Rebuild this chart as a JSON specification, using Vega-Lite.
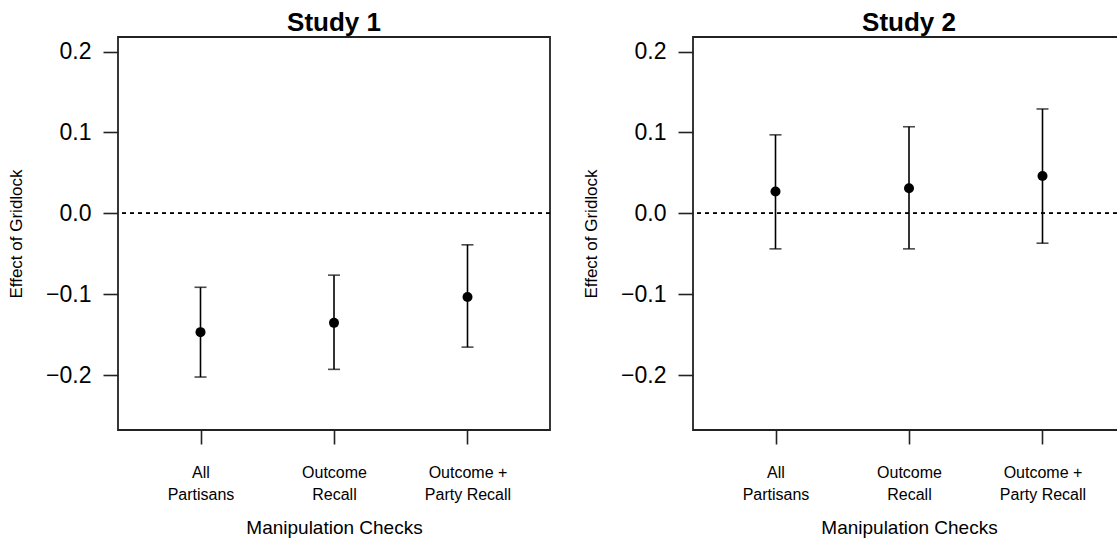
{
  "$schema": "https://vega.github.io/schema/vega-lite/v6.json",
  "padding": {"left": 6, "top": 9, "right": 0, "bottom": 0},
  "background": "white",
  "datasets": {
    "effects": [
      {"study": "Study 1", "check": "All Partisans", "estimate": -0.147, "lower": -0.2025, "upper": -0.0915},
      {"study": "Study 1", "check": "Outcome Recall", "estimate": -0.1355, "lower": -0.193, "upper": -0.0765},
      {"study": "Study 1", "check": "Outcome + Party Recall", "estimate": -0.1035, "lower": -0.1655, "upper": -0.039},
      {"study": "Study 2", "check": "All Partisans", "estimate": 0.027, "lower": -0.044, "upper": 0.097},
      {"study": "Study 2", "check": "Outcome Recall", "estimate": 0.031, "lower": -0.044, "upper": 0.107},
      {"study": "Study 2", "check": "Outcome + Party Recall", "estimate": 0.046, "lower": -0.037, "upper": 0.129}
    ]
  },
  "bounds": "flush",
  "spacing": 143,
  "hconcat": [
    {
      "title": "Study 1",
      "width": 432,
      "height": 393,
      "data": {"name": "effects"},
      "encoding": {
        "x": {
          "field": "check", "type": "nominal",
          "sort": ["All Partisans", "Outcome Recall", "Outcome + Party Recall"],
          "scale": {"type": "point", "padding": 0.618},
          "axis": {"title": "Manipulation Checks", "labelExpr": "datum.label == 'Outcome + Party Recall' ? ['Outcome +', 'Party Recall'] : split(datum.label, ' ')"}
        }
      },
      "layer": [
        {
          "mark": {"type": "rule", "strokeDash": [4, 4], "strokeWidth": 1.3, "color": "black"},
          "encoding": {
            "x": null,
            "y": {"datum": 0, "type": "quantitative", "scale": {"domain": [-0.268, 0.218], "nice": false, "zero": false}, "axis": {"title": "Effect of Gridlock", "values": [-0.2, -0.1, 0, 0.1, 0.2], "format": ".1f"}}
          }
        },
        {
          "transform": [{"filter": "datum.study === 'Study 1'"}],
          "mark": {"type": "rule", "strokeWidth": 1.6, "color": "black"},
          "encoding": {
            "y": {"field": "lower", "type": "quantitative", "scale": {"domain": [-0.268, 0.218], "nice": false, "zero": false}, "axis": {"title": "Effect of Gridlock", "values": [-0.2, -0.1, 0, 0.1, 0.2], "format": ".1f"}},
            "y2": {"field": "upper"}
          }
        },
        {
          "transform": [{"filter": "datum.study === 'Study 1'"}],
          "mark": {"type": "tick", "size": 12, "thickness": 1.6, "color": "black", "orient": "horizontal"},
          "encoding": {"y": {"field": "lower", "type": "quantitative", "axis": {"title": "Effect of Gridlock", "values": [-0.2, -0.1, 0, 0.1, 0.2], "format": ".1f"}}}
        },
        {
          "transform": [{"filter": "datum.study === 'Study 1'"}],
          "mark": {"type": "tick", "size": 12, "thickness": 1.6, "color": "black", "orient": "horizontal"},
          "encoding": {"y": {"field": "upper", "type": "quantitative", "axis": {"title": "Effect of Gridlock", "values": [-0.2, -0.1, 0, 0.1, 0.2], "format": ".1f"}}}
        },
        {
          "transform": [{"filter": "datum.study === 'Study 1'"}],
          "mark": {"type": "circle", "size": 100, "color": "black", "opacity": 1},
          "encoding": {"y": {"field": "estimate", "type": "quantitative", "axis": {"title": "Effect of Gridlock", "values": [-0.2, -0.1, 0, 0.1, 0.2], "format": ".1f"}}}
        }
      ]
    },
    {
      "title": "Study 2",
      "width": 432,
      "height": 393,
      "data": {"name": "effects"},
      "encoding": {
        "x": {
          "field": "check", "type": "nominal",
          "sort": ["All Partisans", "Outcome Recall", "Outcome + Party Recall"],
          "scale": {"type": "point", "padding": 0.618},
          "axis": {"title": "Manipulation Checks", "labelExpr": "datum.label == 'Outcome + Party Recall' ? ['Outcome +', 'Party Recall'] : split(datum.label, ' ')"}
        }
      },
      "layer": [
        {
          "mark": {"type": "rule", "strokeDash": [4, 4], "strokeWidth": 1.3, "color": "black"},
          "encoding": {
            "x": null,
            "y": {"datum": 0, "type": "quantitative", "scale": {"domain": [-0.268, 0.218], "nice": false, "zero": false}, "axis": {"title": "Effect of Gridlock", "values": [-0.2, -0.1, 0, 0.1, 0.2], "format": ".1f"}}
          }
        },
        {
          "transform": [{"filter": "datum.study === 'Study 2'"}],
          "mark": {"type": "rule", "strokeWidth": 1.6, "color": "black"},
          "encoding": {
            "y": {"field": "lower", "type": "quantitative", "scale": {"domain": [-0.268, 0.218], "nice": false, "zero": false}, "axis": {"title": "Effect of Gridlock", "values": [-0.2, -0.1, 0, 0.1, 0.2], "format": ".1f"}},
            "y2": {"field": "upper"}
          }
        },
        {
          "transform": [{"filter": "datum.study === 'Study 2'"}],
          "mark": {"type": "tick", "size": 12, "thickness": 1.6, "color": "black", "orient": "horizontal"},
          "encoding": {"y": {"field": "lower", "type": "quantitative", "axis": {"title": "Effect of Gridlock", "values": [-0.2, -0.1, 0, 0.1, 0.2], "format": ".1f"}}}
        },
        {
          "transform": [{"filter": "datum.study === 'Study 2'"}],
          "mark": {"type": "tick", "size": 12, "thickness": 1.6, "color": "black", "orient": "horizontal"},
          "encoding": {"y": {"field": "upper", "type": "quantitative", "axis": {"title": "Effect of Gridlock", "values": [-0.2, -0.1, 0, 0.1, 0.2], "format": ".1f"}}}
        },
        {
          "transform": [{"filter": "datum.study === 'Study 2'"}],
          "mark": {"type": "circle", "size": 100, "color": "black", "opacity": 1},
          "encoding": {"y": {"field": "estimate", "type": "quantitative", "axis": {"title": "Effect of Gridlock", "values": [-0.2, -0.1, 0, 0.1, 0.2], "format": ".1f"}}}
        }
      ]
    }
  ],
  "config": {
    "font": "Liberation Sans",
    "view": {"stroke": "#222222", "strokeWidth": 1.8},
    "title": {"fontSize": 26, "fontWeight": "bold", "font": "Liberation Sans", "color": "black", "offset": 1, "anchor": "middle"},
    "axisY": {
      "domain": false,
      "grid": false,
      "tickSize": 15,
      "tickWidth": 1.6,
      "tickColor": "#222222",
      "labelFontSize": 23,
      "labelColor": "black",
      "labelPadding": 12,
      "titleFontSize": 17,
      "titleFontWeight": "normal",
      "titleColor": "black",
      "titlePadding": 20
    },
    "axisX": {
      "domain": false,
      "grid": false,
      "labelAngle": 0,
      "tickSize": 14,
      "tickWidth": 1.6,
      "tickColor": "#222222",
      "labelFontSize": 16,
      "labelLineHeight": 22,
      "labelColor": "black",
      "labelPadding": 20,
      "titleFontSize": 19,
      "titleFontWeight": "normal",
      "titleColor": "black",
      "titlePadding": 16
    }
  }
}
